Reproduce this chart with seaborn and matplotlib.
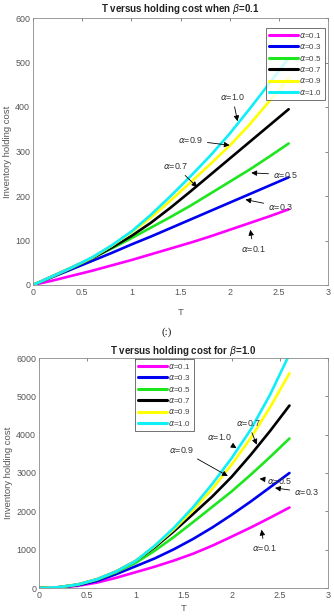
import numpy as np
import pandas as pd
import matplotlib
matplotlib.use("Agg")
import matplotlib.pyplot as plt
import seaborn as sns

# values
T = [0, 0.2, 0.4, 0.6, 0.8, 1.0, 1.2, 1.4, 1.6, 1.8, 2.0, 2.2, 2.4, 2.6]
alpha_labels = [r"$\alpha$=0.1", r"$\alpha$=0.3", r"$\alpha$=0.5",
                r"$\alpha$=0.7", r"$\alpha$=0.9", r"$\alpha$=1.0"]
line_colors = ["#ff00ff", "#0000f0", "#1ee61e", "#000000", "#ffff00", "#10eef8"]

# beta = 0.1
b01_a01 = [0, 10, 21, 32, 44, 56, 69, 82, 95, 109, 124, 139, 154, 170]
b01_a03 = [0, 18, 36, 54, 72, 91, 109, 128, 147, 166, 185, 204, 223, 242]
b01_a05 = [0, 19, 39, 60, 82, 105, 129, 153, 178, 205, 232, 259, 288, 318]
b01_a07 = [0, 20, 40, 60, 84, 110, 140, 174, 210, 247, 284, 321, 358, 395]
b01_a09 = [0, 20, 40, 61, 88, 118, 152, 190, 230, 271, 313, 360, 412, 466]
b01_a10 = [0, 20, 40, 62, 89, 120, 158, 200, 244, 290, 340, 395, 452, 510]

# beta = 1.0
b10_a01 = [0, 12, 55, 140, 265, 410, 555, 715, 895, 1105, 1340, 1580, 1835, 2100]
b10_a03 = [0, 15, 70, 180, 360, 564, 770, 1010, 1280, 1580, 1910, 2260, 2630, 3000]
b10_a05 = [0, 18, 85, 215, 410, 650, 970, 1330, 1720, 2120, 2520, 2960, 3420, 3900]
b10_a07 = [0, 20, 90, 225, 430, 700, 1060, 1480, 1930, 2390, 2900, 3480, 4100, 4760]
b10_a09 = [0, 20, 90, 225, 430, 700, 1090, 1530, 2030, 2590, 3220, 3920, 4720, 5600]
b10_a10 = [0, 20, 90, 225, 430, 700, 1100, 1570, 2110, 2720, 3390, 4140, 5050, 6100]


def make_frame(series):
    rows = []
    for lab, vals in zip(alpha_labels, series):
        for t, v in zip(T, vals):
            rows.append({"T": t, "cost": v, "alpha": lab})
    return pd.DataFrame(rows)


df_top = make_frame([b01_a01, b01_a03, b01_a05, b01_a07, b01_a09, b01_a10])
df_bot = make_frame([b10_a01, b10_a03, b10_a05, b10_a07, b10_a09, b10_a10])

sns.set_theme(style="white")
plt.rcParams["font.family"] = ["Liberation Sans", "DejaVu Sans"]
plt.rcParams["mathtext.fontset"] = "dejavusans"

grey = "#555555"
fig = plt.figure(figsize=(3.34, 6.16), dpi=100)
ax1 = fig.add_axes([33 / 334, 1 - 285 / 616, 295 / 334, 267 / 616])
ax2 = fig.add_axes([39 / 334, 1 - 588 / 616, 289 / 334, 230 / 616])


def style_axes(ax, ymax, ystep):
    ax.set_xlim(0, 3)
    ax.set_ylim(0, ymax)
    ax.set_xticks(np.arange(0, 3.01, 0.5))
    ax.set_xticklabels(["0", "0.5", "1", "1.5", "2", "2.5", "3"])
    ax.set_yticks(np.arange(0, ymax + 1, ystep))
    ax.tick_params(direction="in", length=2.2, width=0.5, labelsize=6.4,
                   colors=grey, pad=2, top=True, right=True)
    for s in ax.spines.values():
        s.set_color("#8a8a8a")
        s.set_linewidth(0.6)
    ax.set_ylabel("Inventory holding cost", fontsize=6.8, color=grey, labelpad=2)


def add_legend(ax, loc, anchor):
    handles, labels = ax.get_legend_handles_labels()
    leg = ax.legend(handles, labels, loc=loc, bbox_to_anchor=anchor,
                    borderaxespad=0, fontsize=5.8, frameon=True, fancybox=False,
                    handlelength=3.6, handletextpad=0.15, labelspacing=0.3,
                    borderpad=0.35, labelcolor="#444444")
    leg.get_frame().set_edgecolor("#333333")
    leg.get_frame().set_linewidth(0.6)
    leg.set_zorder(10)
    for h in leg.legend_handles:
        h.set_linewidth(2.2)


arrow = dict(arrowstyle="-|>", color="black", lw=0.6, mutation_scale=8,
             shrinkA=1, shrinkB=0)
ann_kw = dict(fontsize=6.4, ha="center", va="center", color="#333333",
              arrowprops=arrow)

# top panel
sns.lineplot(data=df_top, x="T", y="cost", hue="alpha", palette=line_colors,
             linewidth=1.9, ax=ax1, sort=False)
style_axes(ax1, 600, 100)
ax1.set_xlabel("T", fontsize=6.8, color=grey, labelpad=8)
ax1.set_title(r"T versus holding cost when $\beta$=0.1", fontsize=7.0,
              fontweight="bold", color="#222222", pad=4)
add_legend(ax1, "upper right", (0.990, 0.9625))
ax1.annotate(alpha_labels[5], xy=(2.08, 368), xytext=(2.03, 422), **ann_kw)
ax1.annotate(alpha_labels[4], xy=(2.0, 314), xytext=(1.6, 325), **ann_kw)
ax1.annotate(alpha_labels[3], xy=(1.67, 220), xytext=(1.45, 267), **ann_kw)
ax1.annotate(alpha_labels[2], xy=(2.22, 252), xytext=(2.57, 248), **ann_kw)
ax1.annotate(alpha_labels[1], xy=(2.16, 192), xytext=(2.52, 176), **ann_kw)
ax1.annotate(alpha_labels[0], xy=(2.21, 124), xytext=(2.24, 82), **ann_kw)

# bottom panel
sns.lineplot(data=df_bot, x="T", y="cost", hue="alpha", palette=line_colors,
             linewidth=1.9, ax=ax2, sort=False)
style_axes(ax2, 6000, 1000)
ax2.set_xlabel("T", fontsize=6.8, color=grey, labelpad=3)
ax2.set_title(r"T versus holding cost for $\beta$=1.0", fontsize=7.0,
              fontweight="bold", color="#222222", pad=3)
add_legend(ax2, "upper left", (0.332, 0.996))
ax2.annotate(alpha_labels[3], xy=(2.26, 3740), xytext=(2.17, 4300), **ann_kw)
ax2.annotate(alpha_labels[5], xy=(2.05, 3650), xytext=(1.87, 3930), **ann_kw)
ax2.annotate(alpha_labels[4], xy=(1.96, 2920), xytext=(1.48, 3600), **ann_kw)
ax2.annotate(alpha_labels[2], xy=(2.29, 2850), xytext=(2.5, 2790), **ann_kw)
ax2.annotate(alpha_labels[1], xy=(2.45, 2610), xytext=(2.78, 2495), **ann_kw)
ax2.annotate(alpha_labels[0], xy=(2.31, 1520), xytext=(2.34, 1040), **ann_kw)

fig.text(167 / 334, 1 - 332 / 616, "(:)", fontsize=8, family="Liberation Serif",
         ha="center", va="center", color="#111111")

fig.savefig("out.png", dpi=100)
